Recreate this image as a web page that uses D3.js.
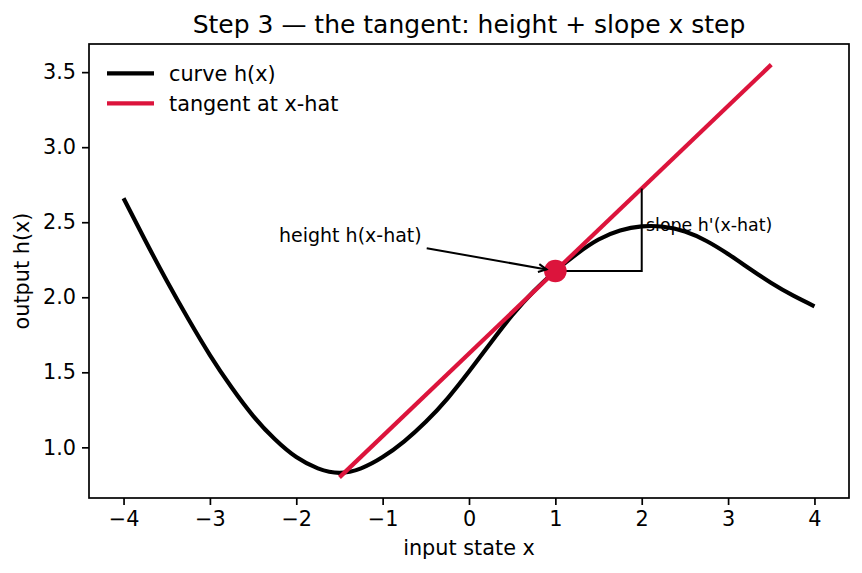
<!DOCTYPE html>
<html>
<head>
<meta charset="utf-8">
<script src="https://cdn.jsdelivr.net/npm/d3@7"></script>
<style>
  body { margin: 0; background: #fff; }
  text { font-family: "DejaVu Sans", sans-serif; fill: #000; }
</style>
</head>
<body>
<div id="chart"></div>
<script>
// curve h(x), every 0.25
const curveX = [-4, -3.75, -3.5, -3.25, -3, -2.75, -2.5, -2.25, -2, -1.75, -1.5, -1.25, -1,
    -0.75, -0.5, -0.25, 0, 0.25, 0.5, 0.75, 1, 1.25, 1.5, 1.75, 2, 2.25, 2.5, 2.75, 3,
    3.25, 3.5, 3.75, 4];
const curveY = [2.66, 2.38, 2.11, 1.855, 1.615, 1.40, 1.21, 1.055, 0.935, 0.86, 0.83, 0.86, 0.935,
    1.04, 1.17, 1.325, 1.505, 1.695, 1.88, 2.04, 2.175, 2.29, 2.385, 2.445, 2.472, 2.47, 2.438, 2.375, 2.288,
    2.19, 2.095, 2.012, 1.94];

// tangent at x-hat
const tangentX = [-1.5, 3.5];
const tangentY = [0.80, 3.55];
const xHat = 1;
const hHat = 2.175;
const slopeHat = 0.55;

const xTicks = [-4, -3, -2, -1, 0, 1, 2, 3, 4];
const yTicks = [1.0, 1.5, 2.0, 2.5, 3.0, 3.5];

const RED = "#dc143c";

const width = 862, height = 573;
const margin = {top: 44, right: 13, bottom: 75, left: 89};

const svg = d3.select("#chart").append("svg")
    .attr("width", width)
    .attr("height", height);

// matplotlib style 5% padding around the data
const allY = curveY.concat(tangentY);
const yLo = d3.min(allY), yHi = d3.max(allY);
const yPad = (yHi - yLo) * 0.05;
const xLo = d3.min(curveX), xHi = d3.max(curveX);
const xPad = (xHi - xLo) * 0.05;

const x = d3.scaleLinear()
    .domain([xLo - xPad, xHi + xPad])
    .range([margin.left, width - margin.right]);
const y = d3.scaleLinear()
    .domain([yLo - yPad, yHi + yPad])
    .range([height - margin.bottom, margin.top]);

const fmtMinus = d => d3.format("")(d).replace("-", "\u2212");

// axes
const xAxis = svg.append("g")
    .attr("transform", `translate(0,${height - margin.bottom})`)
    .call(d3.axisBottom(x).tickValues(xTicks).tickSize(7).tickPadding(6).tickFormat(fmtMinus));
const yAxis = svg.append("g")
    .attr("transform", `translate(${margin.left},0)`)
    .call(d3.axisLeft(y).tickValues(yTicks).tickSize(7).tickPadding(6).tickFormat(d3.format(".1f")));

[xAxis, yAxis].forEach(g => {
    g.select(".domain").remove();
    g.selectAll(".tick line").attr("stroke", "#000").attr("stroke-width", 1.7);
    g.selectAll(".tick text").style("font-size", "20.8px").attr("fill", "#000");
});

// curve
const curvePts = curveX.map((v, i) => [v, curveY[i]]);
const line = d3.line()
    .x(d => x(d[0]))
    .y(d => y(d[1]))
    .curve(d3.curveNatural);

svg.append("path")
    .datum(curvePts)
    .attr("d", line)
    .attr("fill", "none")
    .attr("stroke", "#000")
    .attr("stroke-width", 4.2);

// tangent
svg.append("path")
    .datum(tangentX.map((v, i) => [v, tangentY[i]]))
    .attr("d", d3.line().x(d => x(d[0])).y(d => y(d[1])))
    .attr("fill", "none")
    .attr("stroke", RED)
    .attr("stroke-width", 4.2);

// slope triangle: one step right, slope up
svg.append("path")
    .attr("d", d3.line()([
        [x(xHat), y(hHat)],
        [x(xHat + 1), y(hHat)],
        [x(xHat + 1), y(hHat + slopeHat)]
    ]))
    .attr("fill", "none")
    .attr("stroke", "#000")
    .attr("stroke-width", 2);

// point at x-hat
svg.append("circle")
    .attr("cx", x(xHat))
    .attr("cy", y(hHat))
    .attr("r", 11.3)
    .attr("fill", RED);

// annotation: height
const hLabel = svg.append("text")
    .attr("x", x(-2.2))
    .attr("y", y(2.37))
    .style("font-size", "19px")
    .text("height h(x-hat)");

const bb = hLabel.node().getBBox();
const cx = bb.x + bb.width / 2, cy = bb.y + bb.height / 2;
const tx = x(xHat), ty = y(hHat);
const dx = tx - cx, dy = ty - cy;
const len = Math.hypot(dx, dy);
const ux = dx / len, uy = dy / len;
const sx = bb.x + bb.width + 5;
const sy = cy + (sx - cx) * dy / dx;
const ex = tx - ux * 9, ey = ty - uy * 9;

svg.append("line")
    .attr("x1", sx).attr("y1", sy)
    .attr("x2", ex).attr("y2", ey)
    .attr("stroke", "#000")
    .attr("stroke-width", 2);

const headL = 8, headW = 4;
svg.append("path")
    .attr("d", d3.line()([
        [ex - ux * headL - uy * headW, ey - uy * headL + ux * headW],
        [ex, ey],
        [ex - ux * headL + uy * headW, ey - uy * headL - ux * headW]
    ]))
    .attr("fill", "none")
    .attr("stroke", "#000")
    .attr("stroke-width", 2);

// annotation: slope
svg.append("text")
    .attr("x", x(2.05))
    .attr("y", y(2.44))
    .style("font-size", "17.4px")
    .text("slope h'(x-hat)");

// frame
svg.append("rect")
    .attr("x", margin.left)
    .attr("y", margin.top)
    .attr("width", width - margin.left - margin.right)
    .attr("height", height - margin.top - margin.bottom)
    .attr("fill", "none")
    .attr("stroke", "#000")
    .attr("stroke-width", 1.7);

// legend
const legendItems = [
    {label: "curve h(x)", color: "#000"},
    {label: "tangent at x-hat", color: RED}
];
const legend = svg.append("g");
legendItems.forEach((d, i) => {
    const ly = 73.3 + i * 30;
    legend.append("line")
        .attr("x1", 107).attr("x2", 154)
        .attr("y1", ly).attr("y2", ly)
        .attr("stroke", d.color)
        .attr("stroke-width", 4.2);
    legend.append("text")
        .attr("x", 169)
        .attr("y", ly + 7.3)
        .style("font-size", "20.8px")
        .text(d.label);
});

// titles
svg.append("text")
    .attr("x", (margin.left + width - margin.right) / 2)
    .attr("y", 33)
    .attr("text-anchor", "middle")
    .style("font-size", "25px")
    .text("Step 3 \u2014 the tangent: height + slope x step");

svg.append("text")
    .attr("x", (margin.left + width - margin.right) / 2)
    .attr("y", 555)
    .attr("text-anchor", "middle")
    .style("font-size", "20.8px")
    .text("input state x");

svg.append("text")
    .attr("transform", `translate(29,${(margin.top + height - margin.bottom) / 2}) rotate(-90)`)
    .attr("text-anchor", "middle")
    .style("font-size", "20.8px")
    .text("output h(x)");
</script>
</body>
</html>
